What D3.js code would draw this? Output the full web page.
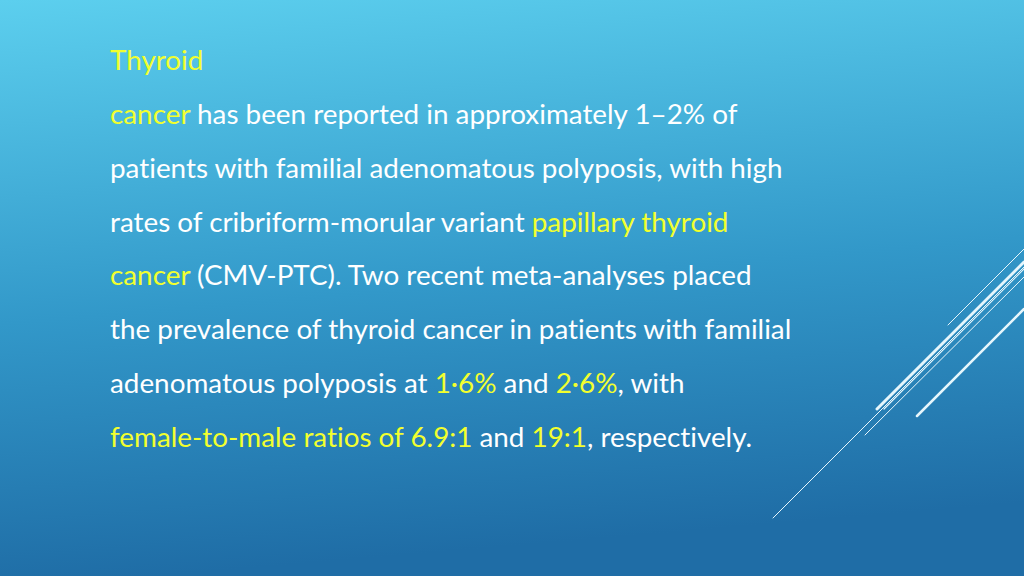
<!doctype html>
<html>
<head>
<meta charset="utf-8">
<style>
body{margin:0;overflow:hidden;}
text{font-variant-ligatures:none;font-feature-settings:"liga" 0;}
</style>
</head>
<body>
<script src="https://d3js.org/d3.v7.min.js"></script>
<script>
var W = 1024, H = 576;
var white = "#ffffff", yellow = "#f2ff2e";

// each line of text is a list of [text, colour] runs
var textLines = [
	[["Thyroid", yellow]],
	[["cancer", yellow], [" has been reported in approximately 1\u20132% of", white]],
	[["patients with familial adenomatous polyposis, with high", white]],
	[["rates of cribriform-morular variant ", white], ["papillary thyroid", yellow]],
	[["cancer", yellow], [" (CMV-PTC). Two recent meta-analyses placed", white]],
	[["the prevalence of thyroid cancer in patients with familial", white]],
	[["adenomatous polyposis at ", white], ["1\u00b76%", yellow], [" and ", white], ["2\u00b76%", yellow], [", with", white]],
	[["female-to-male ratios of 6.9:1", yellow], [" and ", white], ["19:1", yellow], [", respectively.", white]]
];

// decorative strokes: x1,y1,x2,y2,width
var strokes = [
	[948, 325, 1024, 249, 1],
	[877, 409, 1024, 262, 3],
	[884, 409, 1024, 269, 1.2],
	[865, 435, 1024, 277, 1],
	[773, 518, 1024, 267, 1],
	[917, 416, 1024, 309, 2.5]
];

var svg = d3.select("body").append("svg").attr("width", W).attr("height", H);

var grad = svg.append("defs").append("linearGradient").attr("id", "bg")
	.attr("x1", 0).attr("y1", 0).attr("x2", 0.15).attr("y2", 1);
grad.append("stop").attr("offset", "0%").attr("stop-color", "#5ccfee");
grad.append("stop").attr("offset", "55%").attr("stop-color", "#3298c9");
grad.append("stop").attr("offset", "100%").attr("stop-color", "#1f6da6");
svg.append("rect").attr("width", W).attr("height", H).attr("fill", "url(#bg)");

svg.selectAll("line.deco").data(strokes).enter().append("line")
	.attr("x1", d => d[0]).attr("y1", d => d[1]).attr("x2", d => d[2]).attr("y2", d => d[3])
	.attr("stroke", "#e6f6fc").attr("stroke-width", d => d[4]).attr("stroke-linecap", "round");

var y = d3.scaleLinear().domain([0, textLines.length - 1]).range([70, 447]);

var txt = svg.selectAll("text.line").data(textLines).enter().append("text")
	.attr("x", 110).attr("y", (d, i) => y(i)).attr("xml:space", "preserve")
	.style("font-family", "Lato, 'Open Sans', sans-serif").style("font-size", "24px");

txt.selectAll("tspan").data(d => d).enter().append("tspan")
	.text(d => d[0]).attr("fill", d => d[1]).style("white-space", "pre");

// fit the font so the third line spans the same width as in the slide
var w = txt.nodes()[2].getComputedTextLength();
txt.style("font-size", (24 * 673 / w) + "px");
</script>
</body>
</html>
